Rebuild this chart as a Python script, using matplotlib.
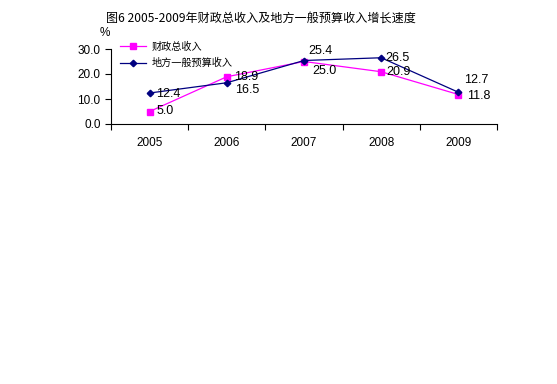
import numpy as np
import matplotlib.pyplot as plt

plt.rcParams['font.family'] = ['Liberation Sans', 'Noto Sans CJK SC', 'DejaVu Sans']

# data
years = ['2005', '2006', '2007', '2008', '2009']
total_rev = [5.0, 18.9, 25.0, 20.9, 11.8]
local_rev = [12.4, 16.5, 25.4, 26.5, 12.7]

fig = plt.figure(figsize=(5.57, 3.84), dpi=100)
ax = fig.add_axes([111 / 557, 1 - 124 / 384, 386 / 557, 75 / 384])

x = np.arange(len(years))
ax.plot(x, total_rev, color='#FF00FF', marker='s', markersize=4, lw=0.9,
        label='财政总收入')
ax.plot(x, local_rev, color='#000080', marker='D', markersize=3.3, lw=0.9,
        label='地方一般预算收入')

# data labels (dx, dy in points)
off_total = [(5, 0), (5, 0), (6, -7), (4, 0), (6, -1)]
off_local = [(5, -1), (6, -5), (3, 6.5), (3, 0), (4, 9)]
for i in range(len(years)):
    ax.annotate(f'{total_rev[i]:.1f}', (x[i], total_rev[i]),
                xytext=off_total[i], textcoords='offset points',
                fontsize=9, va='center', ha='left')
    ax.annotate(f'{local_rev[i]:.1f}', (x[i], local_rev[i]),
                xytext=off_local[i], textcoords='offset points',
                fontsize=9, va='center', ha='left')

ax.set_xlim(-0.5, len(years) - 0.5)
ax.set_ylim(0, 30)
ax.set_yticks([0, 10, 20, 30])
ax.set_yticklabels(['0.0', '10.0', '20.0', '30.0'], fontsize=8.5)
ax.set_xticks(np.arange(-0.5, len(years)), minor=False)
ax.set_xticklabels([''] * (len(years) + 1))
ax.set_xticks(x, minor=True)
ax.set_xticklabels(years, minor=True, fontsize=8.5)
ax.tick_params(axis='x', which='minor', length=0, pad=9)
ax.tick_params(axis='x', which='major', length=4, direction='out')
ax.tick_params(axis='y', length=4, direction='out')
ax.spines['top'].set_visible(False)
ax.spines['right'].set_visible(False)

ax.legend(loc='upper left', bbox_to_anchor=(0.0, 1.22), frameon=False,
          handlelength=2.6, handletextpad=0.5, labelspacing=0.6,
          prop={'family': ['Noto Sans CJK SC'], 'size': 7.3})

fig.text(261 / 557, 1 - 18 / 384, '图6 2005-2009年财政总收入及地方一般预算收入增长速度',
         ha='center', va='center', fontsize=8.7,
         family=['Noto Sans CJK SC', 'DejaVu Sans'])
fig.text(105 / 557, 1 - 33 / 384, '%', ha='center', va='center', fontsize=8.5)

fig.savefig('out.png', dpi=100)
